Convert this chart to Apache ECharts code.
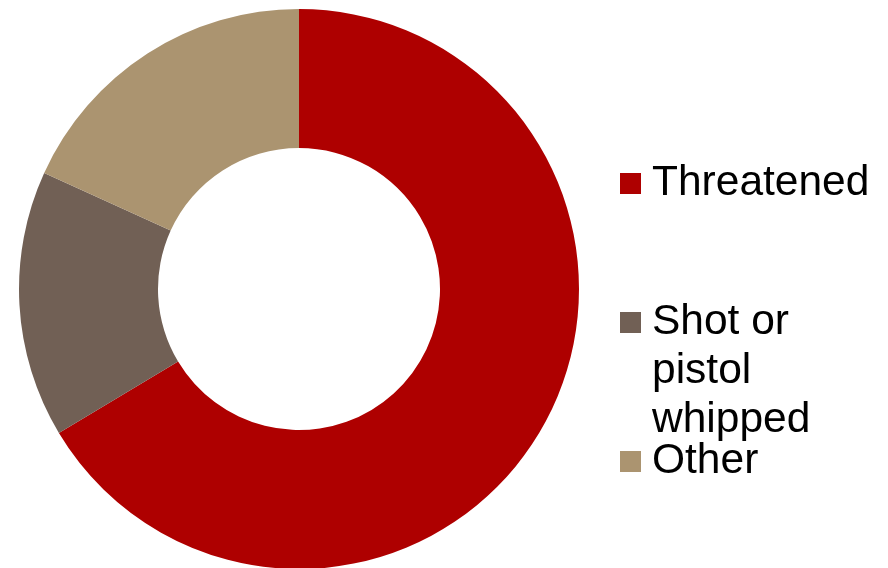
<!DOCTYPE html>
<html>
<head>
<meta charset="utf-8">
<style>
html,body{margin:0;padding:0;background:#fff;}
#chart{width:888px;height:568px;}
</style>
<script src="https://cdn.jsdelivr.net/npm/echarts@6/dist/echarts.min.js"></script>
</head>
<body>
<div id="chart"></div>
<script>
const categories = ['Threatened', 'Shot or pistol whipped', 'Other'];
const legendLabels = ['Threatened', 'Shot or\npistol\nwhipped', 'Other'];
const values = [66.4, 15.4, 18.2];
const colors = ['#AE0000', '#716055', '#AB9470'];

const chart = echarts.init(document.getElementById('chart'), null, {renderer: 'canvas'});

const baseText = {
  fontFamily: '"Liberation Sans", Arial, sans-serif',
  fontSize: 42.5,
  color: '#000',
  lineHeight: 49,
  padding: [0, 0, 0, 6]
};

// icon for a 3-line label: square aligned with the first line of a 147px tall item
const tallIcon = 'path://M0,0h0.01v0.01h-0.01Z M0,14h21v21h-21Z M0,146.99h0.01v0.01h-0.01Z';

function legendFor(i, top, h, icon) {
  return {
    data: [categories[i]],
    orient: 'vertical',
    left: 620,
    top: top,
    padding: 0,
    itemWidth: 21,
    itemHeight: h,
    icon: icon,
    symbolKeepAspect: false,
    selectedMode: false,
    formatter: function () { return legendLabels[i]; },
    textStyle: baseText
  };
}

chart.setOption({
  animation: false,
  color: colors,
  legend: [
    legendFor(0, 159, 21, 'rect'),
    legendFor(1, 298, 147, tallIcon),
    legendFor(2, 437, 21, 'rect')
  ],
  series: [{
    type: 'pie',
    center: [299, 289],
    radius: [141, 280],
    startAngle: 90,
    clockwise: true,
    silent: true,
    label: {show: false},
    labelLine: {show: false},
    itemStyle: {borderWidth: 0},
    data: categories.map((c, i) => ({name: c, value: values[i]}))
  }]
});
</script>
</body>
</html>
